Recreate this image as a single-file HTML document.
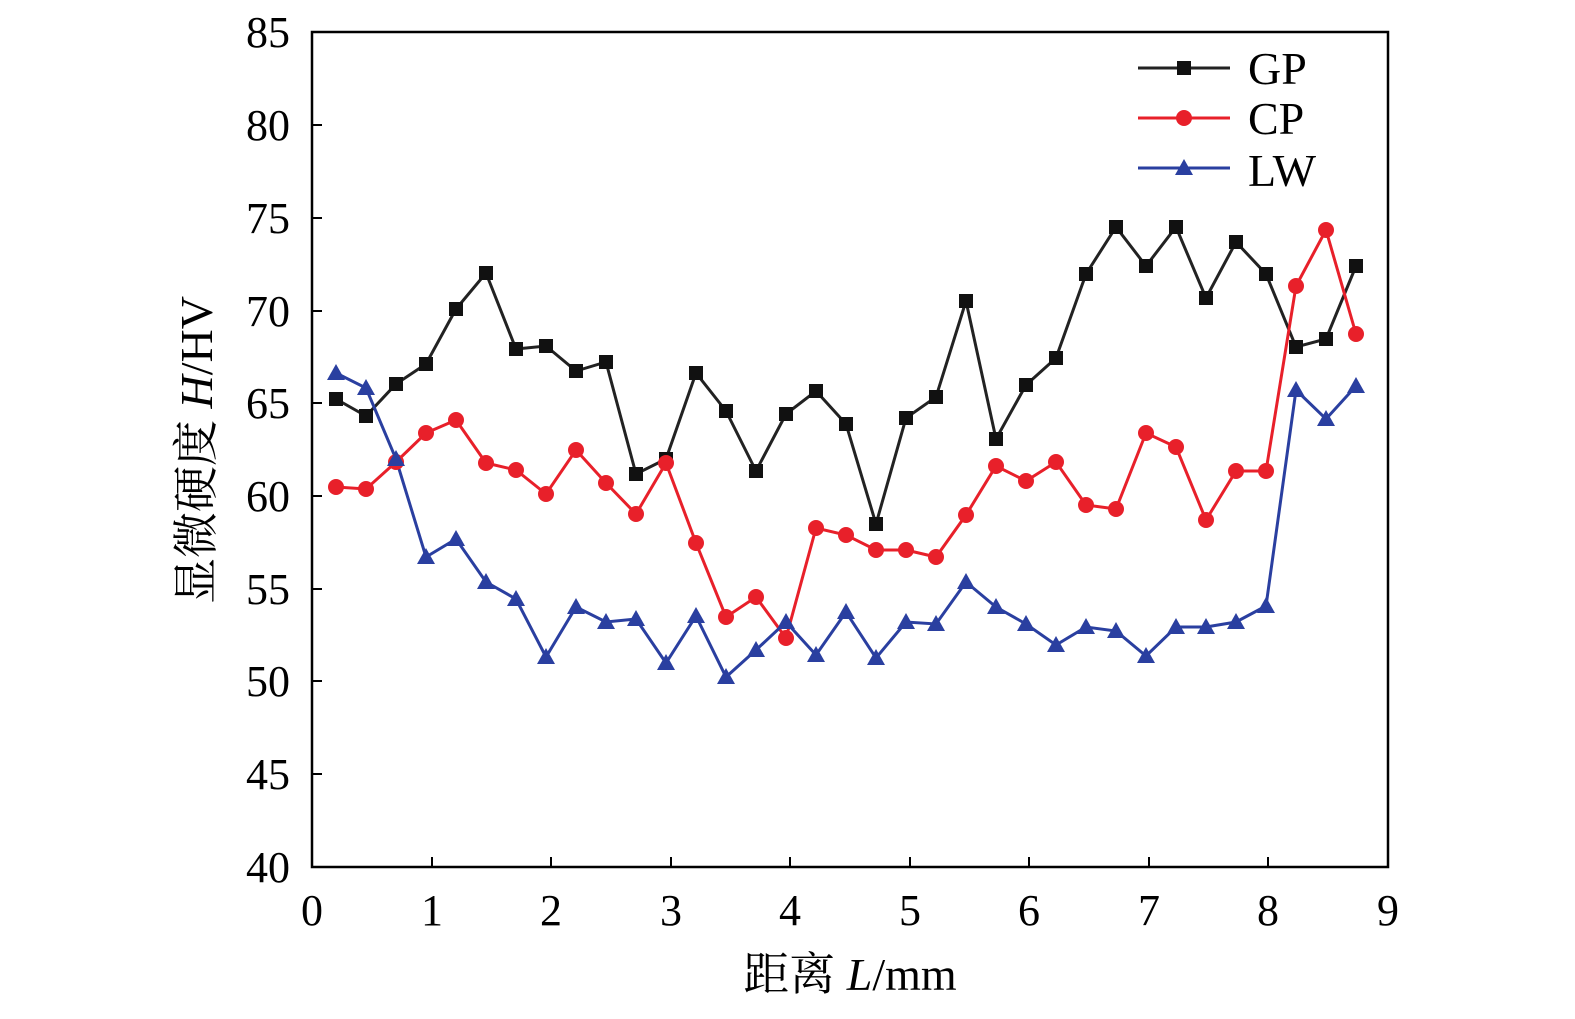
<!DOCTYPE html>
<html><head><meta charset="utf-8"><style>body{margin:0;background:#fff}</style></head><body>
<svg width="1575" height="1014" xmlns="http://www.w3.org/2000/svg" font-family="Liberation Serif, 'Noto Serif CJK SC', serif">
<rect width="1575" height="1014" fill="#fff"/>
<rect x="312" y="32" width="1076" height="835" fill="none" stroke="#000" stroke-width="2.5"/>
<g stroke="#000" stroke-width="2">
<line x1="432" y1="867" x2="432" y2="857"/><line x1="551" y1="867" x2="551" y2="857"/><line x1="671" y1="867" x2="671" y2="857"/><line x1="790" y1="867" x2="790" y2="857"/><line x1="910" y1="867" x2="910" y2="857"/><line x1="1029" y1="867" x2="1029" y2="857"/><line x1="1149" y1="867" x2="1149" y2="857"/><line x1="1268" y1="867" x2="1268" y2="857"/>
<line x1="312" y1="774" x2="322" y2="774"/><line x1="312" y1="681" x2="322" y2="681"/><line x1="312" y1="589" x2="322" y2="589"/><line x1="312" y1="496" x2="322" y2="496"/><line x1="312" y1="403" x2="322" y2="403"/><line x1="312" y1="311" x2="322" y2="311"/><line x1="312" y1="218" x2="322" y2="218"/><line x1="312" y1="125" x2="322" y2="125"/>
</g>
<g font-size="44" text-anchor="end">
<text x="290" y="882">40</text><text x="290" y="789">45</text><text x="290" y="696">50</text><text x="290" y="604">55</text><text x="290" y="511">60</text><text x="290" y="418">65</text><text x="290" y="326">70</text><text x="290" y="233">75</text><text x="290" y="140">80</text><text x="290" y="47">85</text>
</g>
<g font-size="44" text-anchor="middle">
<text x="312" y="925">0</text><text x="432" y="925">1</text><text x="551" y="925">2</text><text x="671" y="925">3</text><text x="790" y="925">4</text><text x="910" y="925">5</text><text x="1029" y="925">6</text><text x="1149" y="925">7</text><text x="1268" y="925">8</text><text x="1388" y="925">9</text>
</g>
<text x="850" y="990" font-size="46" text-anchor="middle">距离 <tspan font-style="italic">L</tspan>/mm</text>
<text transform="translate(212,450) rotate(-90)" font-size="46" text-anchor="middle">显微硬度 <tspan font-style="italic">H</tspan>/HV</text>
<polyline fill="none" stroke="#222" stroke-width="3" points="336,399 366,416 396,384 426,364 456,309 486,273 516,349 546,346 576,371 606,362 636,474 666,459 696,373 726,411 756,471 786,414 816,391 846,424 876,524 906,418 936,397 966,301 996,439 1026,385 1056,358 1086,274 1116,227 1146,266 1176,227 1206,298 1236,242 1266,274 1296,347 1326,339 1356,266"/>
<polyline fill="none" stroke="#e8202a" stroke-width="3" points="336,487 366,489 396,462 426,433 456,420 486,463 516,470 546,494 576,450 606,483 636,514 666,463 696,543 726,617 756,597 786,638 816,528 846,535 876,550 906,550 936,557 966,515 996,466 1026,481 1056,462 1086,505 1116,509 1146,433 1176,447 1206,520 1236,471 1266,471 1296,286 1326,230 1356,334"/>
<polyline fill="none" stroke="#2a3fa0" stroke-width="3" points="336,373 366,388 396,459 426,557 456,539 486,582 516,599 546,657 576,607 606,622 636,619 666,663 696,616 726,677 756,650 786,622 816,655 846,612 876,658 906,622 936,624 966,582 996,607 1026,624 1056,645 1086,627 1116,631 1146,656 1176,627 1206,627 1236,622 1266,606 1296,390 1326,419 1356,386"/>
<g fill="#111">
<rect x="329" y="392" width="14" height="14"/><rect x="359" y="409" width="14" height="14"/><rect x="389" y="377" width="14" height="14"/><rect x="419" y="357" width="14" height="14"/><rect x="449" y="302" width="14" height="14"/><rect x="479" y="266" width="14" height="14"/><rect x="509" y="342" width="14" height="14"/><rect x="539" y="339" width="14" height="14"/><rect x="569" y="364" width="14" height="14"/><rect x="599" y="355" width="14" height="14"/><rect x="629" y="467" width="14" height="14"/><rect x="659" y="452" width="14" height="14"/><rect x="689" y="366" width="14" height="14"/><rect x="719" y="404" width="14" height="14"/><rect x="749" y="464" width="14" height="14"/><rect x="779" y="407" width="14" height="14"/><rect x="809" y="384" width="14" height="14"/><rect x="839" y="417" width="14" height="14"/><rect x="869" y="517" width="14" height="14"/><rect x="899" y="411" width="14" height="14"/><rect x="929" y="390" width="14" height="14"/><rect x="959" y="294" width="14" height="14"/><rect x="989" y="432" width="14" height="14"/><rect x="1019" y="378" width="14" height="14"/><rect x="1049" y="351" width="14" height="14"/><rect x="1079" y="267" width="14" height="14"/><rect x="1109" y="220" width="14" height="14"/><rect x="1139" y="259" width="14" height="14"/><rect x="1169" y="220" width="14" height="14"/><rect x="1199" y="291" width="14" height="14"/><rect x="1229" y="235" width="14" height="14"/><rect x="1259" y="267" width="14" height="14"/><rect x="1289" y="340" width="14" height="14"/><rect x="1319" y="332" width="14" height="14"/><rect x="1349" y="259" width="14" height="14"/>
</g>
<g fill="#e8202a">
<circle cx="336" cy="487" r="8"/><circle cx="366" cy="489" r="8"/><circle cx="396" cy="462" r="8"/><circle cx="426" cy="433" r="8"/><circle cx="456" cy="420" r="8"/><circle cx="486" cy="463" r="8"/><circle cx="516" cy="470" r="8"/><circle cx="546" cy="494" r="8"/><circle cx="576" cy="450" r="8"/><circle cx="606" cy="483" r="8"/><circle cx="636" cy="514" r="8"/><circle cx="666" cy="463" r="8"/><circle cx="696" cy="543" r="8"/><circle cx="726" cy="617" r="8"/><circle cx="756" cy="597" r="8"/><circle cx="786" cy="638" r="8"/><circle cx="816" cy="528" r="8"/><circle cx="846" cy="535" r="8"/><circle cx="876" cy="550" r="8"/><circle cx="906" cy="550" r="8"/><circle cx="936" cy="557" r="8"/><circle cx="966" cy="515" r="8"/><circle cx="996" cy="466" r="8"/><circle cx="1026" cy="481" r="8"/><circle cx="1056" cy="462" r="8"/><circle cx="1086" cy="505" r="8"/><circle cx="1116" cy="509" r="8"/><circle cx="1146" cy="433" r="8"/><circle cx="1176" cy="447" r="8"/><circle cx="1206" cy="520" r="8"/><circle cx="1236" cy="471" r="8"/><circle cx="1266" cy="471" r="8"/><circle cx="1296" cy="286" r="8"/><circle cx="1326" cy="230" r="8"/><circle cx="1356" cy="334" r="8"/>
</g>
<g fill="#2a3fa0">
<polygon points="336,364 327,380 345,380"/><polygon points="366,379 357,395 375,395"/><polygon points="396,450 387,466 405,466"/><polygon points="426,548 417,564 435,564"/><polygon points="456,530 447,546 465,546"/><polygon points="486,573 477,589 495,589"/><polygon points="516,590 507,606 525,606"/><polygon points="546,648 537,664 555,664"/><polygon points="576,598 567,614 585,614"/><polygon points="606,613 597,629 615,629"/><polygon points="636,610 627,626 645,626"/><polygon points="666,654 657,670 675,670"/><polygon points="696,607 687,623 705,623"/><polygon points="726,668 717,684 735,684"/><polygon points="756,641 747,657 765,657"/><polygon points="786,613 777,629 795,629"/><polygon points="816,646 807,662 825,662"/><polygon points="846,603 837,619 855,619"/><polygon points="876,649 867,665 885,665"/><polygon points="906,613 897,629 915,629"/><polygon points="936,615 927,631 945,631"/><polygon points="966,573 957,589 975,589"/><polygon points="996,598 987,614 1005,614"/><polygon points="1026,615 1017,631 1035,631"/><polygon points="1056,636 1047,652 1065,652"/><polygon points="1086,618 1077,634 1095,634"/><polygon points="1116,622 1107,638 1125,638"/><polygon points="1146,647 1137,663 1155,663"/><polygon points="1176,618 1167,634 1185,634"/><polygon points="1206,618 1197,634 1215,634"/><polygon points="1236,613 1227,629 1245,629"/><polygon points="1266,597 1257,613 1275,613"/><polygon points="1296,381 1287,397 1305,397"/><polygon points="1326,410 1317,426 1335,426"/><polygon points="1356,377 1347,393 1365,393"/>
</g>
<line x1="1138" y1="68" x2="1230" y2="68" stroke="#222" stroke-width="3"/><rect x="1177" y="61" width="14" height="14" fill="#111"/>
<line x1="1138" y1="118" x2="1230" y2="118" stroke="#e8202a" stroke-width="3"/><circle cx="1184" cy="118" r="8" fill="#e8202a"/>
<line x1="1138" y1="168" x2="1230" y2="168" stroke="#2a3fa0" stroke-width="3"/><polygon points="1184,159 1175,175 1193,175" fill="#2a3fa0"/>
<g font-size="46"><text x="1248" y="84">GP</text><text x="1248" y="134">CP</text><text x="1248" y="186">LW</text></g>
</svg>
</body></html>
